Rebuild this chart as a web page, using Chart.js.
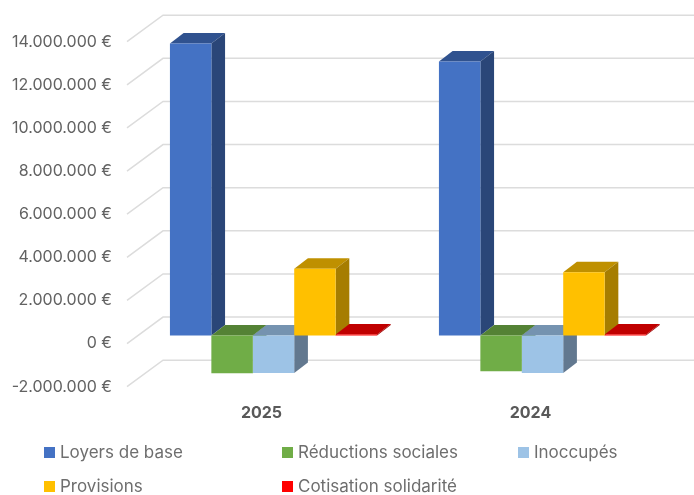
<!DOCTYPE html>
<html><head><meta charset="utf-8">
<style>html,body{margin:0;padding:0;background:#fff}canvas{display:block}</style>
<script src="https://cdn.jsdelivr.net/npm/chart.js@4/dist/chart.umd.js"></script>
</head><body>
<canvas id="c" width="694" height="495"></canvas>
<script>
const categories = ['2025', '2024'];
const seriesNames = ['Loyers de base', 'Réductions sociales', 'Inoccupés', 'Provisions', 'Cotisation solidarité'];
const loyers = [13550000, 12710000];
const reductions = [-1750000, -1660000];
const inoccupes = [-1730000, -1730000];
const provisions = [3100000, 2940000];
const cotisation = [50000, 50000];
const seriesValues = [loyers, reductions, inoccupes, provisions, cotisation];
const frontColors = ['#4472C4', '#70AD47', '#9DC3E6', '#FFC000', '#FF0000'];
const sideColors = ['#2A4678', '#4C7730', '#62788F', '#A67D00', '#A00000'];
const topColors = ['#30528F', '#548235', '#7593B0', '#BF9000', '#C00000'];
const legendCols = [44, 282, 518, 44, 282];
const legendRows = [452, 452, 452, 486, 486];

const WALL = {dx: 36, dy: -26.5};
const BAR_SHIFT = {dx: 12, dy: -8};
const BAR_DEPTH = {dx: 13.7, dy: -10.5};
const FONT = 'Inter, "Noto Sans", sans-serif';

const euro = v => String(v).replace(/\B(?=(\d{3})+(?!\d))/g, '.') + ' €';

const threeD = {
  id: 'threeD',
  beforeDatasetsDraw(chart) {
    const {ctx, chartArea: a, scales: {y}} = chart;
    ctx.save();
    ctx.strokeStyle = '#DCDCDC';
    ctx.lineWidth = 1.5;
    y.ticks.forEach(t => {
      const py = y.getPixelForValue(t.value);
      ctx.beginPath();
      ctx.moveTo(a.left, py);
      ctx.lineTo(a.left + WALL.dx, py + WALL.dy);
      ctx.lineTo(694, py + WALL.dy);
      ctx.stroke();
    });
    ctx.translate(BAR_SHIFT.dx, BAR_SHIFT.dy);
    const d = BAR_DEPTH;
    seriesNames.forEach((_, i) => {
      chart.getDatasetMeta(i).data.forEach(el => {
        const p = el.getProps(['x', 'y', 'base', 'width'], true);
        const l = p.x - p.width / 2, r = p.x + p.width / 2;
        const t = Math.min(p.y, p.base), b = Math.max(p.y, p.base);
        ctx.fillStyle = topColors[i];
        ctx.beginPath();
        ctx.moveTo(l, t); ctx.lineTo(l + d.dx, t + d.dy); ctx.lineTo(r + d.dx, t + d.dy); ctx.lineTo(r, t);
        ctx.closePath(); ctx.fill();
        ctx.fillStyle = sideColors[i];
        ctx.beginPath();
        ctx.moveTo(r, t); ctx.lineTo(r + d.dx, t + d.dy); ctx.lineTo(r + d.dx, b + d.dy); ctx.lineTo(r, b);
        ctx.closePath(); ctx.fill();
      });
    });
    ctx.restore();
  },
  beforeDatasetDraw(chart) {
    chart.ctx.save();
    chart.ctx.translate(BAR_SHIFT.dx, BAR_SHIFT.dy);
  },
  afterDatasetDraw(chart) { chart.ctx.restore(); },
  afterDraw(chart) {
    const {ctx} = chart;
    ctx.save();
    ctx.textBaseline = 'middle';
    ctx.textAlign = 'left';
    ctx.font = '17px ' + FONT;
    seriesNames.forEach((name, i) => {
      ctx.fillStyle = frontColors[i];
      ctx.fillRect(legendCols[i], legendRows[i] - 5, 11, 11);
      ctx.fillStyle = '#6E6E6E';
      ctx.fillText(name, legendCols[i] + 16, legendRows[i] + 1);
    });
    ctx.restore();
  }
};

new Chart(document.getElementById('c'), {
  type: 'bar',
  data: {
    labels: categories,
    datasets: seriesNames.map((name, i) => ({
      label: name,
      data: seriesValues[i],
      backgroundColor: frontColors[i],
      borderWidth: 0,
      clip: false,
      categoryPercentage: 0.77,
      barPercentage: 1
    }))
  },
  plugins: [threeD],
  options: {
    responsive: false,
    animation: false,
    devicePixelRatio: 1,
    layout: {padding: {left: 0, right: 29, top: 41.7, bottom: 0}},
    plugins: {legend: {display: false}, title: {display: false}, tooltip: {enabled: false}},
    scales: {
      x: {
        grid: {display: false, drawTicks: false},
        border: {display: false},
        ticks: {color: '#595959', padding: 17, maxRotation: 0, font: {family: FONT, size: 16, weight: 'bold'}},
        afterFit(s) { s.height = 108.3; }
      },
      y: {
        min: -2000000, max: 14000000,
        grid: {display: false, drawTicks: false},
        border: {display: false},
        ticks: {stepSize: 2000000, color: '#626262', padding: 15, callback: v => euro(v),
                font: {family: FONT, size: 16}},
        afterFit(s) { s.width = 127; }
      }
    }
  }
});
</script>
</body></html>
